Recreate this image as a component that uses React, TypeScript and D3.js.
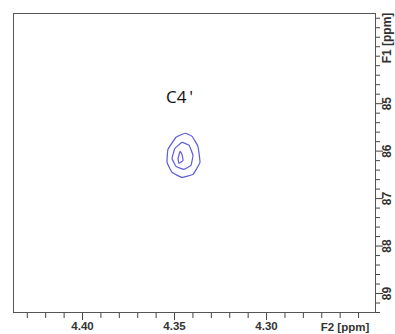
import { useRef, useEffect } from 'react';
import * as d3 from 'd3';

// F2 (x) and F1 (y) ticks, ppm
const f2Major = [4.40, 4.35, 4.30];
const f2Minor = [4.43, 4.42, 4.41, 4.39, 4.38, 4.37, 4.36, 4.34, 4.33, 4.32, 4.31, 4.29, 4.28, 4.27, 4.26, 4.25];
const f1Major = [85, 86, 87, 88, 89];
const f1Minor = [83.2, 83.4, 83.6, 83.8, 84, 84.2, 84.4, 84.6, 84.8, 85.2, 85.4, 85.6, 85.8, 86.2, 86.4, 86.6, 86.8,
  87.2, 87.4, 87.6, 87.8, 88.2, 88.4, 88.6, 88.8, 89.2, 89.4];

// contour levels of the C4' cross peak, [F2, F1] in ppm
const contourOuter = [
  [4.3440, 85.634], [4.3489, 85.719], [4.3533, 85.973], [4.3538, 86.247], [4.3511, 86.459],
  [4.3457, 86.564], [4.3397, 86.501], [4.3359, 86.247], [4.3370, 85.909], [4.3402, 85.698],
];
const contourMiddle = [
  [4.3457, 85.825], [4.3495, 85.951], [4.3511, 86.163], [4.3489, 86.332], [4.3446, 86.395],
  [4.3408, 86.311], [4.3397, 86.099], [4.3418, 85.888],
];
const contourInner = [
  [4.3467, 86.015], [4.3478, 86.163], [4.3473, 86.268], [4.3451, 86.205], [4.3457, 86.078],
];
const contours = [contourOuter, contourMiddle, contourInner];

const peakLabel = { text: 'C4\u2009\'', f2: 4.3543, f1: 85.0 };

export default function App() {
  const svgRef = useRef<SVGSVGElement>(null);

  useEffect(() => {
    const w = 395;
    const h = 334;
    const left = 13, top = 13, right = 375, bottom = 312;
    const font = '"Liberation Sans", Arial, sans-serif';
    const svg = d3.select(svgRef.current);
    svg.selectAll('*').remove();

    const x = d3.scaleLinear().domain([4.4375, 4.2408]).range([left, right]);
    const y = d3.scaleLinear().domain([83.1, 89.4]).range([top, bottom]);

    svg.append('rect')
      .attr('width', w).attr('height', h).attr('fill', '#fff');

    // contours
    const line = d3.line<number[]>()
      .x(d => x(d[0]))
      .y(d => y(d[1]))
      .curve(d3.curveCardinalClosed.tension(0.75));
    svg.selectAll('.contour')
      .data(contours)
      .join('path')
      .attr('d', d => line(d))
      .attr('fill', 'none')
      .attr('stroke', '#5b5be0')
      .attr('stroke-width', 1.2);

    svg.append('text')
      .attr('x', x(peakLabel.f2))
      .attr('y', y(peakLabel.f1))
      .attr('font-family', '"Open Sans", sans-serif')
      .attr('font-size', 17)
      .attr('fill', '#111')
      .text(peakLabel.text);

    // bottom axis
    const xMinorAxis = d3.axisBottom(x).tickValues(f2Minor).tickSize(6).tickFormat(() => '');
    const xMajorAxis = d3.axisBottom(x).tickValues(f2Major).tickSize(8).tickPadding(2)
      .tickFormat(d3.format('.2f'));
    [xMinorAxis, xMajorAxis].forEach(ax => {
      const g = svg.append('g')
        .attr('transform', `translate(0, ${bottom})`)
        .call(ax);
      g.select('.domain').remove();
      g.selectAll('line').attr('stroke', '#444');
      g.selectAll('text')
        .attr('font-family', font)
        .attr('font-weight', 'bold')
        .attr('font-size', 11.5)
        .attr('fill', '#333');
    });
    svg.append('text')
      .attr('x', 345)
      .attr('y', 331)
      .attr('text-anchor', 'middle')
      .attr('font-family', font)
      .attr('font-weight', 'bold')
      .attr('font-size', 11.5)
      .attr('fill', '#333')
      .text('F2 [ppm]');

    // right axis
    const yMinorAxis = d3.axisRight(y).tickValues(f1Minor).tickSize(5).tickFormat(() => '');
    const yMajorAxis = d3.axisRight(y).tickValues(f1Major).tickSize(8).tickFormat(d3.format('d'));
    [yMinorAxis, yMajorAxis].forEach(ax => {
      const g = svg.append('g')
        .attr('transform', `translate(${right}, 0)`)
        .call(ax);
      g.select('.domain').remove();
      g.selectAll('line').attr('stroke', '#444');
      g.selectAll('text')
        .attr('x', null)
        .attr('dy', '0.35em')
        .attr('transform', 'translate(12, 0) rotate(-90)')
        .attr('text-anchor', 'middle')
        .attr('font-family', font)
        .attr('font-weight', 'bold')
        .attr('font-size', 12)
        .attr('fill', '#333');
    });
    svg.append('text')
      .attr('transform', `translate(${right + 12}, 38) rotate(-90)`)
      .attr('dy', '0.35em')
      .attr('text-anchor', 'middle')
      .attr('font-family', font)
      .attr('font-weight', 'bold')
      .attr('font-size', 12)
      .attr('fill', '#333')
      .text('F1 [ppm]');

    // frame
    svg.append('rect')
      .attr('x', left + 0.5).attr('y', top + 0.5)
      .attr('width', right - left).attr('height', bottom - top)
      .attr('fill', 'none')
      .attr('stroke', '#555')
      .attr('stroke-width', 1);
  }, []);

  return (
    <svg ref={svgRef} width={395} height={334}
      style={{ position: 'absolute', left: 0, top: 0, display: 'block' }} />
  );
}
